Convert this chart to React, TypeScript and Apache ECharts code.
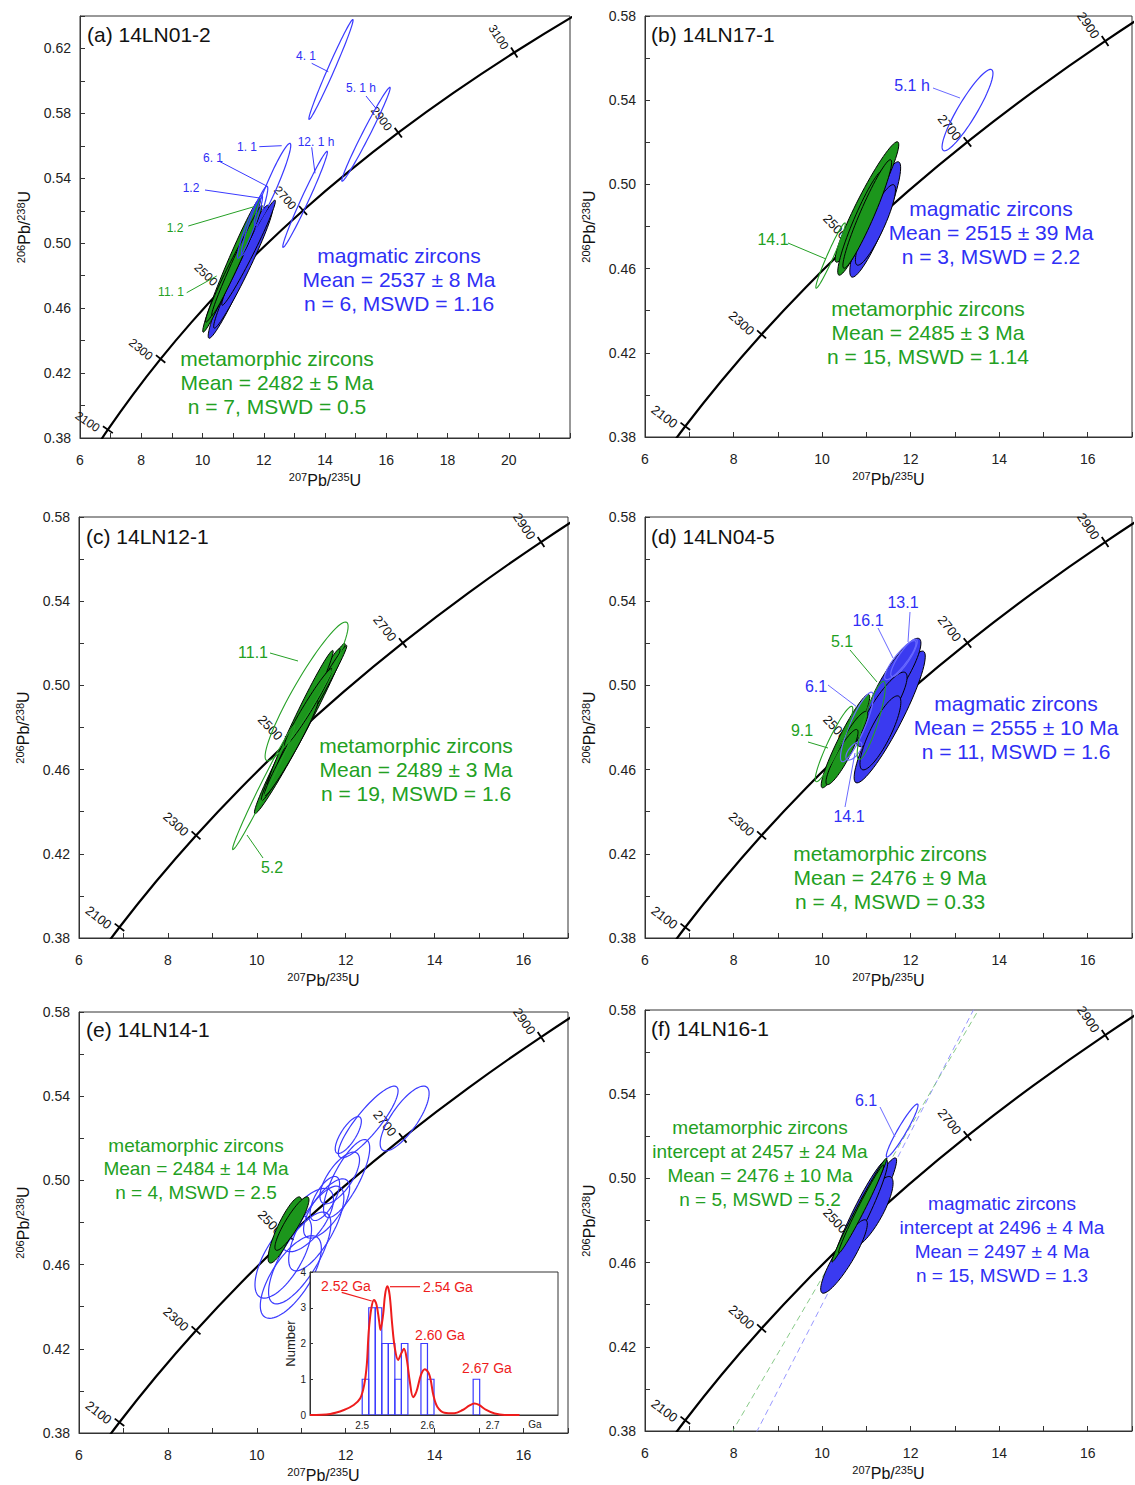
import React, { useEffect, useRef } from 'react';
import * as echarts from 'echarts';

const FONT = "'Liberation Sans', Arial, Helvetica, sans-serif";
const BLUE_TEXT = '#2f2ff5';
const BLUE_FILL = '#3a3af0';
const BLUE_LINE = '#3a3aff';
const BLUE_LIGHT = '#6a6aff';
const GREEN_TEXT = '#22a022';
const GREEN_FILL = '#1c961c';
const GREEN_LINE = '#25a025';
const RED = '#ee1c1c';

// ---------------- concordia reference table (ages in Ma) ----------------
const concordiaAge = [1900, 2000, 2100, 2200, 2300, 2400, 2500, 2600, 2700, 2800, 2900, 3000, 3100, 3200, 3300];
const concordia207 = [5.4962, 6.1685, 6.9104, 7.7292, 8.6326, 9.6296, 10.7297, 11.9437, 13.2834, 14.7617, 16.3929, 18.1931, 20.1795, 22.3715, 24.7905];
const concordia206 = [0.34277, 0.36377, 0.38509, 0.40674, 0.42873, 0.45107, 0.47375, 0.49679, 0.52019, 0.54396, 0.5681, 0.59261, 0.61751, 0.6428, 0.66848];
const markerAgesWide = [2100, 2300, 2500, 2700, 2900, 3100];
const markerAgesStd = [2100, 2300, 2500, 2700, 2900];

// ---------------- tick labels ----------------
const xLabelsWide = [6, 8, 10, 12, 14, 16, 18, 20];
const xLabelsStd = [6, 8, 10, 12, 14, 16];
const yLabelsWide = [0.38, 0.42, 0.46, 0.5, 0.54, 0.58, 0.62];
const yLabelsStd = [0.38, 0.42, 0.46, 0.5, 0.54, 0.58];

// ---------------- ellipses: [x1, y1, x2, y2, minor/major] (major-axis end points) ----------------
const aBlueFill = [[10.21, 0.4415, 12.14, 0.5234, 0.1], [10.38, 0.4477, 12.27, 0.5215, 0.09], [10.64, 0.4618, 12.37, 0.5265, 0.08]];
const aGreenFill = [[10.02, 0.4452, 11.88, 0.5277, 0.07], [10.11, 0.4514, 11.71, 0.5129, 0.08], [10.31, 0.4557, 11.94, 0.5234, 0.06]];
const aBlueOpen = [[13.48, 0.5763, 14.91, 0.6378, 0.06], [14.555, 0.5382, 16.12, 0.596, 0.07], [12.63, 0.4975, 14.07, 0.5566, 0.07], [11.71, 0.5111, 12.86, 0.5615, 0.12], [11.29, 0.4926, 12.11, 0.5351, 0.12], [11.16, 0.4908, 11.94, 0.5295, 0.12]];

const bBlueFill = [[10.67, 0.456, 11.73, 0.5107, 0.17], [10.79, 0.4617, 11.62, 0.4998, 0.2]];
const bGreenFill = [[10.315, 0.4631, 11.71, 0.5202, 0.13], [10.38, 0.4569, 11.39, 0.5069, 0.14], [10.49, 0.4602, 11.55, 0.5117, 0.12]];
const bBlueOpen = [[12.74, 0.5161, 13.83, 0.5545, 0.2]];
const bGreenOpen = [[9.865, 0.4507, 10.517, 0.4817, 0.09]];

const cGreenFill = [[9.955, 0.4391, 11.98, 0.5199, 0.07], [10.11, 0.4453, 11.865, 0.5175, 0.07], [10.25, 0.4524, 11.71, 0.5166, 0.07], [10.47, 0.4619, 12.02, 0.519, 0.06], [10.18, 0.4477, 11.37, 0.4928, 0.09], [10.63, 0.4714, 11.685, 0.508, 0.1]];
const cGreenOpen = [[10.22, 0.4643, 12.02, 0.53, 0.16], [9.46, 0.422, 10.85, 0.481, 0.06]];

const dBlueFill = [[10.764, 0.4538, 12.29, 0.5162, 0.17], [11.056, 0.4838, 12.195, 0.5222, 0.23], [10.83, 0.4711, 11.88, 0.5061, 0.25], [10.905, 0.46, 11.73, 0.4949, 0.25]];
const dGreenFill = [[10.0, 0.4514, 11.056, 0.4957, 0.14], [10.34, 0.4638, 11.01, 0.4876, 0.22], [10.11, 0.4529, 10.79, 0.479, 0.2]];
const dBlueOpen = [[11.43, 0.5029, 12.106, 0.5211, 0.25], [11.57, 0.5043, 12.13, 0.5219, 0.25], [10.45, 0.4638, 11.124, 0.4967, 0.2], [10.56, 0.4648, 10.876, 0.4729, 0.45]];
const dGreenOpen = [[9.865, 0.4543, 10.674, 0.49, 0.15], [10.83, 0.4648, 11.39, 0.5019, 0.17]];

const eBlueOpen = [[12.83, 0.5144, 13.82, 0.5444, 0.34], [11.865, 0.5111, 13.146, 0.5444, 0.26], [11.8, 0.513, 12.315, 0.5301, 0.35], [11.57, 0.4826, 12.47, 0.5192, 0.3], [11.48, 0.4893, 12.25, 0.513, 0.4], [10.07, 0.4446, 11.12, 0.4826, 0.4], [10.18, 0.4351, 11.35, 0.4731, 0.4], [10.36, 0.4418, 11.57, 0.4845, 0.35], [10.81, 0.4574, 11.865, 0.4969, 0.35], [11.12, 0.4731, 12.02, 0.5002, 0.4], [11.26, 0.4812, 11.8, 0.5016, 0.4], [10.63, 0.4669, 11.64, 0.4954, 0.45]];
const eGreenFill = [[10.29, 0.4608, 10.97, 0.4921, 0.22], [10.43, 0.4669, 11.15, 0.4921, 0.22]];

const fBlueFill = [[10.045, 0.446, 11.663, 0.5097, 0.12], [10.674, 0.4674, 11.551, 0.5007, 0.28], [10.225, 0.4551, 11.46, 0.5087, 0.13], [10.0, 0.4456, 10.99, 0.4802, 0.22]];
const fGreenFill = [[10.225, 0.4603, 11.46, 0.5097, 0.06], [10.38, 0.4646, 11.39, 0.5064, 0.07]];
const fBlueOpen = [[11.46, 0.5102, 12.157, 0.5353, 0.14]];
const fDiscordiaBlue = [[8.41, 0.375], [13.54, 0.585]];
const fDiscordiaGreen = [[7.84, 0.375], [13.67, 0.585]];

// ---------------- inset histogram (panel e) ----------------
const histBinStart = [2.5, 2.51, 2.52, 2.53, 2.54, 2.55, 2.56, 2.59, 2.6, 2.67];
const histCount = [1, 3, 3, 2, 2, 1, 2, 2, 1, 1];
const histBinWidth = 0.01;
const pdfAge = [2.42, 2.451, 2.472, 2.487, 2.497, 2.503, 2.507, 2.51, 2.514, 2.518, 2.522, 2.526, 2.528, 2.532, 2.535, 2.5385, 2.542, 2.546, 2.55, 2.555, 2.56, 2.564, 2.568, 2.573, 2.578, 2.583, 2.59, 2.596, 2.603, 2.609, 2.615, 2.626, 2.641, 2.654, 2.664, 2.672, 2.679, 2.69, 2.703, 2.718, 2.741];
const pdfValue = [0, 0.03, 0.14, 0.28, 0.47, 0.84, 1.4, 2.34, 2.99, 3.22, 3.08, 2.62, 2.38, 2.8, 3.36, 3.6, 3.36, 2.52, 1.87, 1.54, 1.73, 1.85, 1.59, 0.93, 0.5, 0.65, 1.12, 1.28, 1.12, 0.56, 0.23, 0.065, 0.05, 0.14, 0.26, 0.32, 0.28, 0.14, 0.04, 0, 0];
const insetXLabels = [2.5, 2.6, 2.7];
const insetYLabels = [0, 1, 2, 3, 4];

// ---------------- helpers ----------------
const concordiaData = concordiaAge.map((_, i) => [concordia207[i], concordia206[i]]);
function markerData(ages: number[]) {
  return ages.map((age) => {
    const i = concordiaAge.indexOf(age);
    return [concordia207[i], concordia206[i], concordia207[i - 1], concordia206[i - 1], concordia207[i + 1], concordia206[i + 1], age];
  });
}

function ellipseSeries(idx: number, data: number[][], fill: string, stroke: string, lw: number, z: number) {
  return {
    type: 'custom', xAxisIndex: idx, yAxisIndex: idx, data, z, clip: true, silent: true,
    renderItem: (params: any, api: any) => {
      const p1 = api.coord([api.value(0), api.value(1)]);
      const p2 = api.coord([api.value(2), api.value(3)]);
      const ratio = api.value(4);
      const cx = (p1[0] + p2[0]) / 2, cy = (p1[1] + p2[1]) / 2;
      const dx = p2[0] - p1[0], dy = p2[1] - p1[1];
      const a = Math.hypot(dx, dy) / 2, b = a * ratio;
      const ang = Math.atan2(dy, dx), c = Math.cos(ang), s = Math.sin(ang);
      const pts: number[][] = [];
      for (let k = 0; k < 72; k++) {
        const t = (2 * Math.PI * k) / 72;
        const lx = a * Math.cos(t), ly = b * Math.sin(t);
        pts.push([cx + lx * c - ly * s, cy + lx * s + ly * c]);
      }
      return { type: 'polygon', shape: { points: pts }, style: { fill, stroke, lineWidth: lw } };
    },
  };
}

function markerSeries(idx: number, ages: number[], fontSize: number) {
  return {
    type: 'custom', xAxisIndex: idx, yAxisIndex: idx, data: markerData(ages), z: 3, clip: false, silent: true,
    renderItem: (params: any, api: any) => {
      const p = api.coord([api.value(0), api.value(1)]);
      const pa = api.coord([api.value(2), api.value(3)]);
      const pb = api.coord([api.value(4), api.value(5)]);
      let tx = pb[0] - pa[0], ty = pb[1] - pa[1];
      const L = Math.hypot(tx, ty); tx /= L; ty /= L;
      const nx = ty, ny = -tx;
      const ax = p[0] + nx * 8 - tx * 5, ay = p[1] + ny * 8 - ty * 5;
      return {
        type: 'group', children: [
          { type: 'line', shape: { x1: p[0] - nx * 6, y1: p[1] - ny * 6, x2: p[0] + nx * 6, y2: p[1] + ny * 6 }, style: { stroke: '#000', lineWidth: 1.8 } },
          { type: 'text', x: ax, y: ay, rotation: Math.atan2(ny, -nx), style: { text: String(api.value(6)), fill: '#111', fontSize, fontFamily: FONT, align: 'right', textAlign: 'right', verticalAlign: 'middle', textVerticalAlign: 'middle' } },
        ],
      };
    },
  };
}

const nameRich = {
  s: { fontSize: 11, fontFamily: FONT, color: '#111', verticalAlign: 'top', lineHeight: 18 },
  b: { fontSize: 16, fontFamily: FONT, color: '#111', lineHeight: 18 },
};

function makeX(idx: number, max: number, labels: number[]) {
  return {
    gridIndex: idx, type: 'value', min: 6, max, interval: 1,
    axisLine: { show: true, onZero: false, lineStyle: { color: '#333', width: 1 } },
    axisTick: { show: true, inside: true, length: 5, lineStyle: { color: '#333', width: 1 } },
    axisLabel: {
      fontSize: 14, color: '#222', fontFamily: FONT, margin: 15,
      formatter: (v: number) => (labels.some((t) => Math.abs(t - v) < 1e-6) ? String(Math.round(v)) : ''),
    },
    splitLine: { show: false },
    name: '{s|207}{b|Pb/}{s|235}{b|U}', nameLocation: 'middle', nameGap: 33,
    nameTextStyle: { rich: nameRich },
  };
}

function makeY(idx: number, max: number, labels: number[]) {
  return {
    gridIndex: idx, type: 'value', min: 0.38, max, interval: 0.02,
    axisLine: { show: true, onZero: false, lineStyle: { color: '#333', width: 1 } },
    axisTick: { show: true, inside: true, length: 5, lineStyle: { color: '#333', width: 1 } },
    axisLabel: {
      fontSize: 14, color: '#222', fontFamily: FONT, margin: 9,
      formatter: (v: number) => (labels.some((t) => Math.abs(t - v) < 1e-6) ? v.toFixed(2) : ''),
    },
    splitLine: { show: false },
    name: '{s|206}{b|Pb/}{s|238}{b|U}', nameLocation: 'middle', nameGap: 47,
    nameTextStyle: { rich: nameRich },
  };
}

const panels = [
  { left: 80, top: 16, width: 490, height: 422, xMax: 22, xL: xLabelsWide, yMax: 0.64, yL: yLabelsWide, markers: markerAgesWide, mFont: 12, blueFill: aBlueFill, greenFill: aGreenFill, blueOpen: aBlueOpen, greenOpen: [] as number[][], greenZ: 5 },
  { left: 645, top: 16, width: 489, height: 421, xMax: 17, xL: xLabelsStd, yMax: 0.58, yL: yLabelsStd, markers: markerAgesStd, mFont: 13, blueFill: bBlueFill, greenFill: bGreenFill, blueOpen: bBlueOpen, greenOpen: bGreenOpen, greenZ: 5 },
  { left: 79, top: 517, width: 489, height: 421, xMax: 17, xL: xLabelsStd, yMax: 0.58, yL: yLabelsStd, markers: markerAgesStd, mFont: 13, blueFill: [] as number[][], greenFill: cGreenFill, blueOpen: [] as number[][], greenOpen: cGreenOpen, greenZ: 5 },
  { left: 645, top: 517, width: 489, height: 421, xMax: 17, xL: xLabelsStd, yMax: 0.58, yL: yLabelsStd, markers: markerAgesStd, mFont: 13, blueFill: dBlueFill, greenFill: dGreenFill, blueOpen: dBlueOpen, greenOpen: dGreenOpen, greenZ: 5 },
  { left: 79, top: 1012, width: 489, height: 421, xMax: 17, xL: xLabelsStd, yMax: 0.58, yL: yLabelsStd, markers: markerAgesStd, mFont: 13, blueFill: [] as number[][], greenFill: eGreenFill, blueOpen: eBlueOpen, greenOpen: [] as number[][], greenZ: 8 },
  { left: 645, top: 1010, width: 489, height: 421, xMax: 17, xL: xLabelsStd, yMax: 0.58, yL: yLabelsStd, markers: markerAgesStd, mFont: 13, blueFill: fBlueFill, greenFill: fGreenFill, blueOpen: fBlueOpen, greenOpen: [] as number[][], greenZ: 5 },
];

function T(x: number, y: number, text: string, color: string, size: number, align = 'center', lh = 24) {
  return {
    type: 'text', x, y, z: 100, silent: true,
    style: { text, fill: color, fontSize: size, fontFamily: FONT, align, textAlign: align, verticalAlign: 'middle', textVerticalAlign: 'middle', lineHeight: lh },
  };
}
function Ln(x1: number, y1: number, x2: number, y2: number, color: string, w = 1) {
  return { type: 'line', z: 100, silent: true, shape: { x1, y1, x2, y2 }, style: { stroke: color, lineWidth: w } };
}

function buildOption() {
  const grid: any[] = panels.map((p) => ({ left: p.left, top: p.top, width: p.width, height: p.height, show: true, borderColor: '#333', borderWidth: 1, backgroundColor: 'transparent' }));
  const xAxis: any[] = panels.map((p, i) => makeX(i, p.xMax, p.xL));
  const yAxis: any[] = panels.map((p, i) => makeY(i, p.yMax, p.yL));
  const series: any[] = [];
  panels.forEach((p, i) => {
    series.push({ type: 'line', xAxisIndex: i, yAxisIndex: i, data: concordiaData, showSymbol: false, smooth: 0.4, silent: true, z: 2, lineStyle: { color: '#000', width: 2.2 } });
    series.push(markerSeries(i, p.markers, p.mFont));
    if (p.blueFill.length) series.push(ellipseSeries(i, p.blueFill, BLUE_FILL, '#000', 1, 4));
    if (p.greenFill.length) series.push(ellipseSeries(i, p.greenFill, GREEN_FILL, '#000', 1, p.greenZ));
    if (p.blueOpen.length) series.push(ellipseSeries(i, p.blueOpen, 'none', i === 3 ? BLUE_LIGHT : BLUE_LINE, 1.2, 6));
    if (p.greenOpen.length) series.push(ellipseSeries(i, p.greenOpen, 'none', GREEN_LINE, 1.1, 6));
  });
  // discordia lines (panel f)
  series.push({ type: 'line', xAxisIndex: 5, yAxisIndex: 5, data: fDiscordiaBlue, showSymbol: false, silent: true, z: 1, lineStyle: { color: '#8c8cff', width: 0.9, type: [6, 4] } });
  series.push({ type: 'line', xAxisIndex: 5, yAxisIndex: 5, data: fDiscordiaGreen, showSymbol: false, silent: true, z: 1, lineStyle: { color: '#7cc47c', width: 0.9, type: [6, 4] } });

  // inset histogram
  grid.push({ left: 310, top: 1272, width: 248, height: 143, show: true, borderColor: '#333', borderWidth: 1, backgroundColor: '#fff', z: 10 });
  xAxis.push({
    gridIndex: 6, type: 'value', min: 2.42, max: 2.8, interval: 0.01, z: 10,
    axisLine: { show: true, onZero: false, lineStyle: { color: '#333' } },
    axisTick: { show: false },
    axisLabel: { fontSize: 10, color: '#222', fontFamily: FONT, margin: 5, formatter: (v: number) => (insetXLabels.some((t) => Math.abs(t - v) < 1e-6) ? v.toFixed(1) : '') },
    splitLine: { show: false },
  });
  yAxis.push({
    gridIndex: 6, type: 'value', min: 0, max: 4, interval: 1, z: 10,
    axisLine: { show: true, onZero: false, lineStyle: { color: '#333' } },
    axisTick: { show: true, inside: true, length: 3, lineStyle: { color: '#333' } },
    axisLabel: { fontSize: 10, color: '#222', fontFamily: FONT, margin: 4, formatter: (v: number) => (insetYLabels.includes(v) ? String(v) : '') },
    splitLine: { show: false },
    name: 'Number', nameLocation: 'middle', nameGap: 12, nameTextStyle: { fontSize: 13, color: '#222', fontFamily: FONT },
  });
  series.push({
    type: 'custom', xAxisIndex: 6, yAxisIndex: 6, z: 11, silent: true, clip: true,
    data: histBinStart.map((b, i) => [b, histCount[i]]),
    renderItem: (params: any, api: any) => {
      const pTop = api.coord([api.value(0), api.value(1)]);
      const pBot = api.coord([api.value(0) + histBinWidth, 0]);
      return { type: 'rect', shape: { x: pTop[0], y: pTop[1], width: pBot[0] - pTop[0], height: pBot[1] - pTop[1] }, style: { fill: 'none', stroke: '#3a3aff', lineWidth: 1.2 } };
    },
  });
  series.push({ type: 'line', xAxisIndex: 6, yAxisIndex: 6, z: 12, silent: true, data: pdfAge.map((a, i) => [a, pdfValue[i]]), showSymbol: false, smooth: 0.35, lineStyle: { color: RED, width: 2 } });

  const g: any[] = [
    T(87, 34, '(a) 14LN01-2', '#111', 21, 'left'),
    T(651, 34, '(b) 14LN17-1', '#111', 21, 'left'),
    T(86, 536, '(c) 14LN12-1', '#111', 21, 'left'),
    T(651, 536, '(d) 14LN04-5', '#111', 21, 'left'),
    T(86, 1029, '(e) 14LN14-1', '#111', 21, 'left'),
    T(651, 1028, '(f) 14LN16-1', '#111', 21, 'left'),
    // text blocks
    T(399, 279.5, 'magmatic zircons\nMean = 2537 ± 8 Ma\nn = 6, MSWD = 1.16', BLUE_TEXT, 21),
    T(277, 382.5, 'metamorphic zircons\nMean = 2482 ± 5 Ma\nn = 7, MSWD = 0.5', GREEN_TEXT, 21),
    T(991, 232.5, 'magmatic zircons\nMean = 2515 ± 39 Ma\nn = 3, MSWD = 2.2', BLUE_TEXT, 21),
    T(928, 332, 'metamorphic zircons\nMean = 2485 ± 3 Ma\nn = 15, MSWD = 1.14', GREEN_TEXT, 21),
    T(416, 769.5, 'metamorphic zircons\nMean = 2489 ± 3 Ma\nn = 19, MSWD = 1.6', GREEN_TEXT, 21),
    T(1016, 727.5, 'magmatic zircons\nMean = 2555 ± 10 Ma\nn = 11, MSWD = 1.6', BLUE_TEXT, 21),
    T(890, 877.5, 'metamorphic zircons\nMean = 2476 ± 9 Ma\nn = 4, MSWD = 0.33', GREEN_TEXT, 21),
    T(196, 1168.5, 'metamorphic zircons\nMean = 2484 ± 14 Ma\nn = 4, MSWD = 2.5', GREEN_TEXT, 19, 'center', 23.5),
    T(760, 1163.5, 'metamorphic zircons\nintercept at 2457 ± 24 Ma\nMean = 2476 ± 10 Ma\nn = 5, MSWD = 5.2', GREEN_TEXT, 19, 'center', 23.7),
    T(1002, 1239.5, 'magmatic zircons\nintercept at 2496 ± 4 Ma\nMean = 2497 ± 4 Ma\nn = 15, MSWD = 1.3', BLUE_TEXT, 19, 'center', 23.7),
    // panel a spot labels
    T(306, 56, '4. 1', BLUE_TEXT, 12), Ln(311.7, 63.3, 328.3, 71.7, BLUE_LINE),
    T(361, 88, '5. 1 h', BLUE_TEXT, 12), Ln(366, 96, 376.7, 109.3, BLUE_LINE),
    T(316, 142, '12. 1 h', BLUE_TEXT, 12), Ln(311.7, 147.3, 315, 173.3, BLUE_LINE),
    T(247, 147, '1. 1', BLUE_TEXT, 12), Ln(259.3, 146.7, 281.7, 145.7, BLUE_LINE),
    T(213, 158, '6. 1', BLUE_TEXT, 12), Ln(220, 161.7, 266.7, 186, BLUE_LINE),
    T(191, 188, '1.2', BLUE_TEXT, 12), Ln(205, 190, 261.7, 198.3, BLUE_LINE),
    T(175, 228, '1.2', GREEN_TEXT, 12), Ln(188.3, 226, 254, 206.7, GREEN_LINE),
    T(171, 292, '11. 1', GREEN_TEXT, 12), Ln(186.7, 292.7, 216.7, 276, GREEN_LINE),
    // panel b
    T(912, 85, '5.1 h', BLUE_TEXT, 16), Ln(933, 88, 960, 98, BLUE_LIGHT),
    T(773, 239, '14.1', GREEN_TEXT, 16), Ln(788, 243, 826, 259, GREEN_LINE),
    // panel c
    T(253, 652, '11.1', GREEN_TEXT, 16), Ln(270, 653, 298, 661, GREEN_LINE),
    T(272, 867, '5.2', GREEN_TEXT, 16), Ln(263, 858, 247, 835, GREEN_LINE),
    // panel d
    T(903, 602, '13.1', BLUE_TEXT, 16), Ln(910, 612, 908, 642, BLUE_LIGHT),
    T(868, 620, '16.1', BLUE_TEXT, 16), Ln(878, 628, 893, 658, BLUE_LIGHT),
    T(842, 641, '5.1', GREEN_TEXT, 16), Ln(850, 650, 877, 682, GREEN_LINE),
    T(816, 686, '6.1', BLUE_TEXT, 16), Ln(828, 685, 857, 707, BLUE_LIGHT),
    T(802, 730, '9.1', GREEN_TEXT, 16), Ln(808, 742, 828, 748, GREEN_LINE),
    T(849, 816, '14.1', BLUE_TEXT, 16), Ln(845, 807, 855, 753, BLUE_LIGHT),
    // panel f
    T(866, 1100, '6.1', BLUE_TEXT, 16), Ln(880, 1107, 895, 1137, BLUE_LIGHT),
    // inset labels
    T(346, 1286, '2.52 Ga', RED, 14), Ln(341.7, 1292.3, 371.7, 1301, RED, 1.2),
    T(448, 1287, '2.54 Ga', RED, 14), Ln(390, 1286.7, 420, 1286.7, RED, 1.2),
    T(440, 1335, '2.60 Ga', RED, 14),
    T(487, 1368, '2.67 Ga', RED, 14),
    T(535, 1424, 'Ga', '#222', 10),
  ];

  return {
    animation: false,
    backgroundColor: '#fff',
    textStyle: { fontFamily: FONT },
    grid, xAxis, yAxis, series,
    graphic: { elements: g },
  };
}

export default function App() {
  const ref = useRef<HTMLDivElement>(null);
  useEffect(() => {
    if (!ref.current) return;
    const chart = echarts.init(ref.current, null, { renderer: 'svg' });
    chart.setOption(buildOption() as any);
    return () => chart.dispose();
  }, []);
  return <div ref={ref} style={{ position: 'absolute', left: 0, top: 0, width: 1135, height: 1485, background: '#fff' }} />;
}
